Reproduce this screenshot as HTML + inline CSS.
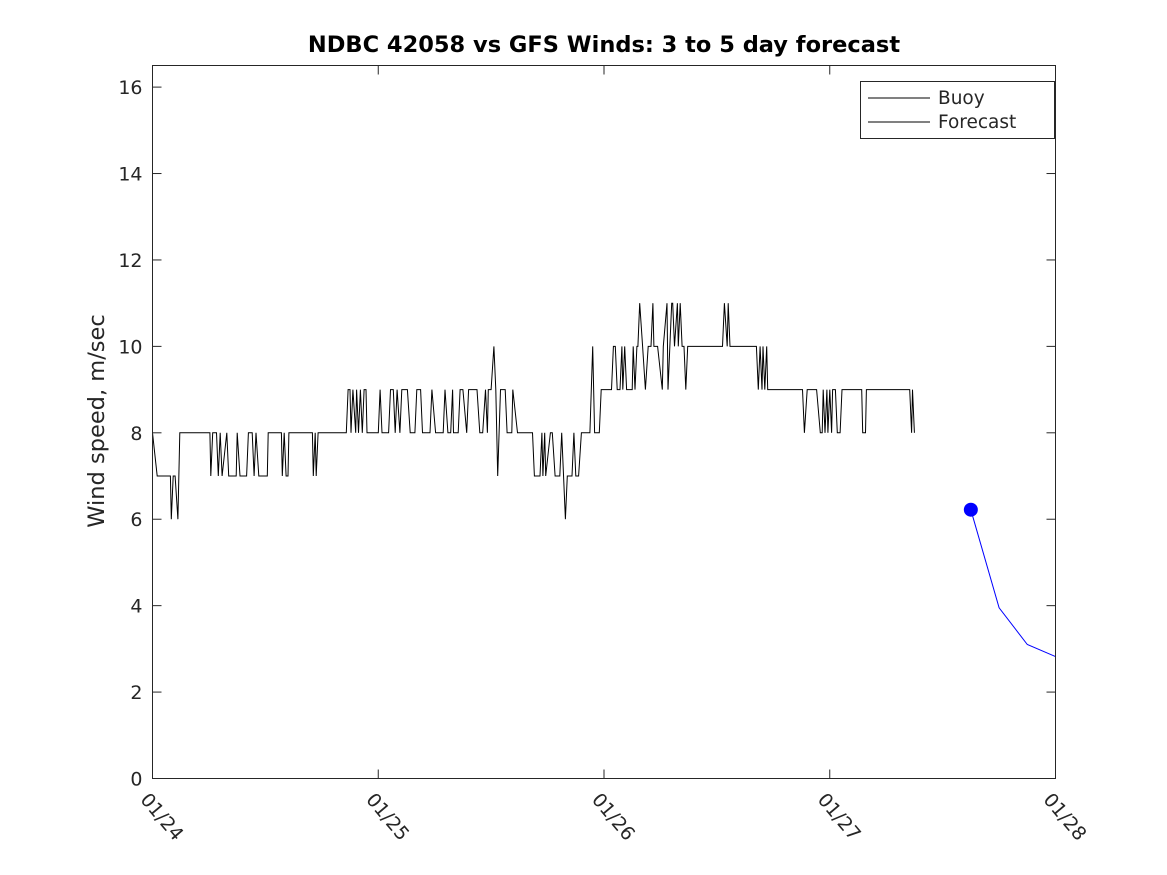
<!DOCTYPE html>
<html><head><meta charset="utf-8"><style>
body{margin:0;background:#fff}
svg{display:block;font-family:"DejaVu Sans","Liberation Sans",sans-serif}
</style></head><body>
<svg id="chart" width="1167" height="875" xmlns="http://www.w3.org/2000/svg">
<rect width="1167" height="875" fill="#fff"/>
<text x="604" y="52" text-anchor="middle" font-size="22.5" font-weight="bold" fill="#000">NDBC 42058 vs GFS Winds: 3 to 5 day forecast</text>
<text transform="translate(104,421) rotate(-90)" text-anchor="middle" font-size="22.5" fill="#262626">Wind speed, m/sec</text>
<g id="axes"></g>
<g id="series"></g>
<rect x="152.5" y="65.5" width="903" height="713" fill="none" stroke="#262626" stroke-width="1"/>
<g>
<rect x="860.5" y="81.5" width="194" height="57" fill="#fff" stroke="#262626"/>
<line x1="868" y1="98" x2="930" y2="98" stroke="#000"/>
<text x="938" y="104" font-size="18.5" fill="#262626">Buoy</text>
<line x1="868" y1="122" x2="930" y2="122" stroke="#000"/>
<text x="938" y="128" font-size="18.5" fill="#262626">Forecast</text>
</g>
</svg>
<script>
const xTickLabels=["01/24","01/25","01/26","01/27","01/28"];
const yTicks=[0,2,4,6,8,10,12,14,16];
const buoyHours=[0,0.5,1.9,2.0,2.2,2.4,2.7,2.9,6.1,6.2,6.4,6.8,7.0,7.2,7.4,7.9,8.1,8.9,9.0,9.3,10.0,10.2,10.6,10.8,11.0,11.3,12.2,12.3,13.7,13.8,14.0,14.2,14.4,14.5,17.0,17.1,17.3,17.4,17.6,20.6,20.8,21.0,21.1,21.3,21.6,21.7,21.9,22.1,22.3,22.5,22.7,22.8,24.0,24.2,24.4,25.1,25.3,25.6,25.8,26.0,26.3,26.5,27.1,27.4,27.9,28.1,28.5,28.7,29.5,29.7,30.1,30.9,31.1,31.4,31.7,31.9,32.0,32.5,32.7,33.0,33.4,33.6,34.5,34.8,35.1,35.4,35.6,35.7,36.0,36.3,36.5,36.7,37.0,37.5,37.7,38.2,38.3,38.8,40.4,40.6,41.2,41.4,41.5,41.7,41.8,42.3,42.5,42.8,43.3,43.5,43.9,44.1,44.6,44.8,45.0,45.3,45.6,45.8,46.5,46.8,47.0,47.5,47.7,48.8,49.0,49.2,49.4,49.7,49.9,50.0,50.2,50.4,51.0,51.1,51.3,51.5,51.6,51.8,52.1,52.4,52.7,53.0,53.2,53.3,53.7,54.2,54.3,54.7,54.8,55.2,55.3,55.5,55.8,55.9,56.1,56.3,56.5,56.7,56.9,60.6,60.8,61.1,61.2,61.4,64.2,64.4,64.6,64.8,64.9,65.1,65.3,65.4,69.1,69.3,69.6,70.6,71.0,71.2,71.3,71.5,71.7,71.8,72.0,72.2,72.3,72.6,72.8,73.1,73.3,75.4,75.5,75.8,75.9,80.5,80.7,80.8,81.0];
const buoySpeed=[8,7,7,6,7,7,6,8,8,7,8,8,7,8,7,8,7,7,8,7,7,8,8,7,8,7,7,8,8,7,8,7,7,8,8,7,8,7,8,8,9,9,8,9,8,9,8,9,8,9,9,8,8,9,8,8,9,9,8,9,8,9,9,8,8,9,9,8,8,9,8,8,9,8,8,9,8,8,9,9,8,9,9,8,8,9,8,9,9,10,9,7,9,9,8,8,9,8,8,7,7,8,7,8,7,8,8,7,7,8,6,7,7,8,7,7,8,8,8,10,8,8,9,9,10,10,9,9,10,9,10,9,9,10,9,10,10,11,10,9,10,10,11,10,10,9,10,11,9,11,11,10,11,10,11,10,10,9,10,10,11,10,11,10,10,9,10,9,10,9,10,9,9,8,9,9,8,8,9,8,9,8,9,8,9,9,8,8,9,9,8,8,9,9,8,9,8];
const fcHours=[87,90,93,96];
const fcSpeed=[6.22,3.95,3.1,2.82];

const NS="http://www.w3.org/2000/svg";
const X0=152.5,X1=1055.5,Y0=778.5,YT=65.5,YMAX=16.5,HMAX=96;
const xs=h=>X0+(X1-X0)*h/HMAX;
const ys=v=>Y0-(Y0-YT)*v/YMAX;
function mk(tag,attrs,parent){const e=document.createElementNS(NS,tag);for(const k in attrs)e.setAttribute(k,attrs[k]);parent.appendChild(e);return e;}
const axes=document.getElementById('axes');
yTicks.forEach(v=>{
  const y=ys(v);
  const t1=mk('line',{x1:X0,x2:X0+9,y1:y,y2:y,stroke:'#262626'},axes);
  
  
  const t2=mk('line',{x1:X1,x2:X1-9,y1:y,y2:y,stroke:'#262626'},axes);
  
  
  const tx=mk('text',{x:X0-10,y:y+7,'text-anchor':'end','font-size':'19',fill:'#262626'},axes);
  tx.textContent=v;
  
  
});
xTickLabels.forEach((lab,i)=>{
  const x=xs(i*24);
  const t1=mk('line',{x1:x,x2:x,y1:Y0,y2:Y0-9,stroke:'#262626'},axes);
  
  
  const t2=mk('line',{x1:x,x2:x,y1:YT,y2:YT+9,stroke:'#262626'},axes);
  
  
  const tx=mk('text',{transform:`translate(${x-13},800) rotate(50)`,'font-size':'19',fill:'#262626'},axes);
  tx.textContent=lab;
  
  
});
const series=document.getElementById('series');
const bp=buoyHours.map((h,i)=>xs(h).toFixed(1)+','+ys(buoySpeed[i]).toFixed(1)).join(' ');
const bl=mk('polyline',{points:bp,fill:'none',stroke:'#000','stroke-width':'1'},series);


const fp=fcHours.map((h,i)=>xs(h).toFixed(1)+','+ys(fcSpeed[i]).toFixed(1)).join(' ');
const fl=mk('polyline',{points:fp,fill:'none',stroke:'#0000ff','stroke-width':'1'},series);


const dot=mk('circle',{cx:xs(fcHours[0]),cy:ys(fcSpeed[0]),r:7,fill:'#0000ff'},series);


</script>
</body></html>
